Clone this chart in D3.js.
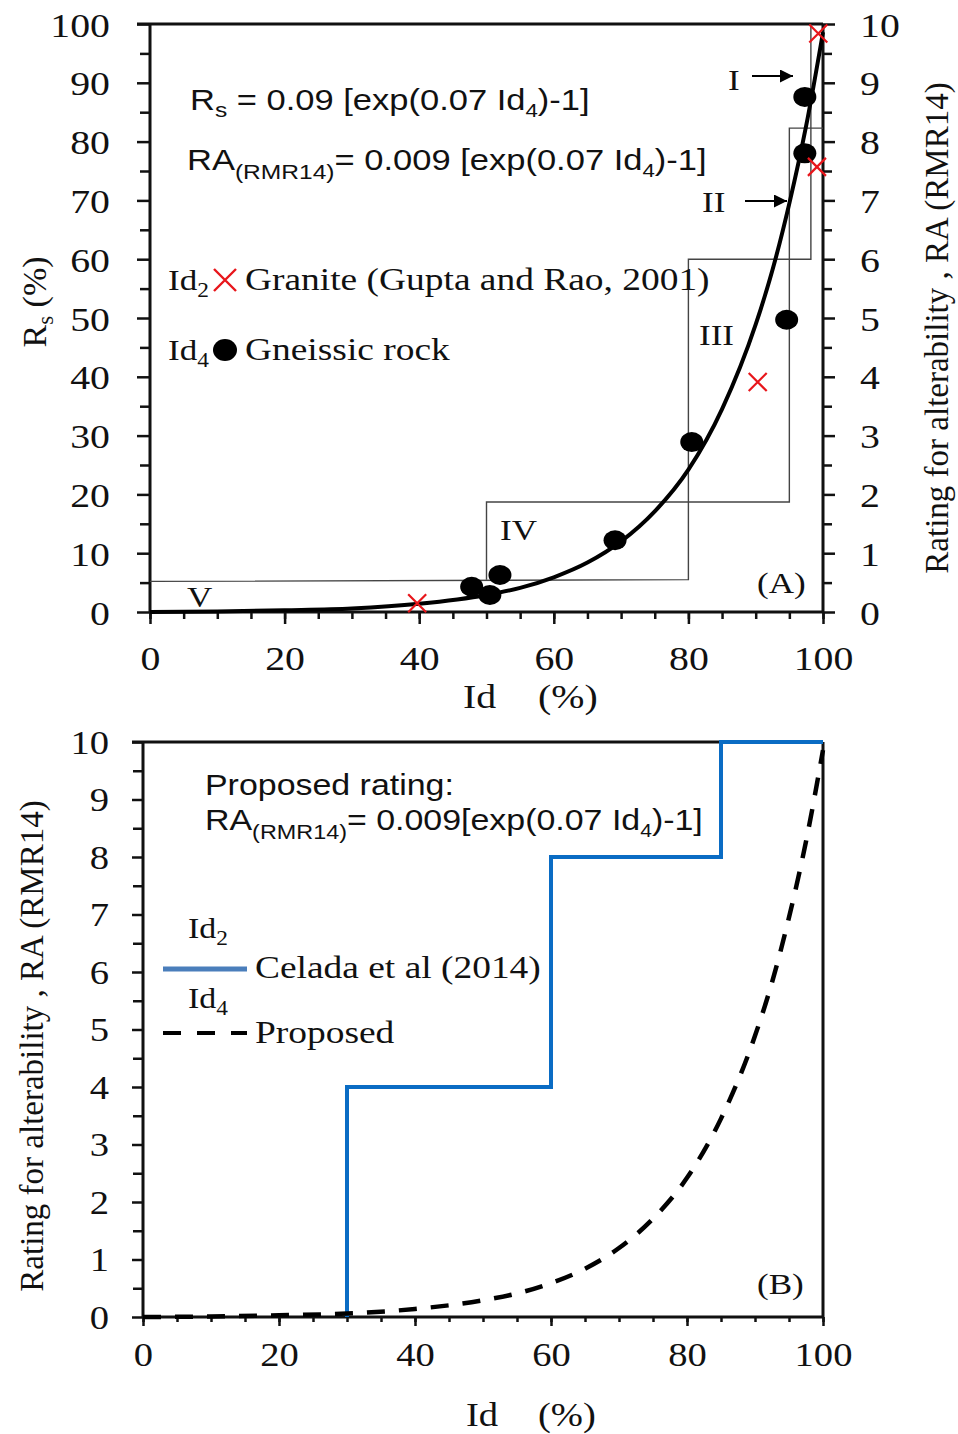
<!DOCTYPE html>
<html>
<head>
<meta charset="utf-8">
<script src="https://cdn.jsdelivr.net/npm/d3@7"></script>
<style>
  body { margin: 0; background: #fff; }
  svg { display: block; }
</style>
</head>
<body>
<div id="chart"></div>
<script>
// fitted curve (Rs in %, RA = rating)
const idFit = [0, 10, 20, 30, 40, 50, 55, 60, 65, 70, 75, 80, 85, 90, 92.5, 95, 97.5, 100];
const rsFit = [0, 0.1, 0.3, 0.6, 1.4, 2.9, 4.1, 5.9, 8.4, 12.0, 17.1, 24.2, 34.5, 48.9, 58.2, 69.5, 82.7, 98.6];
const raFit = [0, 0.01, 0.03, 0.06, 0.14, 0.29, 0.41, 0.59, 0.84, 1.20, 1.71, 2.42, 3.45, 4.89, 5.82, 6.95, 8.27, 9.86];

// gneissic rock (Id4)
const idGneiss = [47.8, 50.5, 52, 69.1, 80.5, 94.6, 97.3, 97.3];
const rsGneiss = [4.3, 2.9, 6.3, 12.2, 28.9, 49.7, 78, 87.6];

// granite, Gupta and Rao 2001 (Id2)
const idGranite = [39.7, 90.3, 99.1, 99.3];
const rsGranite = [1.5, 39.1, 75.7, 98.4];

// class boundaries I..V (two staircases)
const lowerStepId = [0, 80, 80, 98.2, 98.2];
const lowerStepRs = [5.2, 5.5, 60, 60, 100];
const upperStepId = [50, 50, 95, 95, 100];
const upperStepRs = [5.5, 18.7, 18.7, 82.3, 82.3];

// Celada et al (2014) rating steps
const celadaId = [30, 30, 60, 60, 85, 85, 100];
const celadaRA = [0, 4, 4, 8, 8, 10, 10];

const xTicksMajor = [0, 20, 40, 60, 80, 100];
const rsTicks = [0, 10, 20, 30, 40, 50, 60, 70, 80, 90, 100];
const raTicks = [0, 1, 2, 3, 4, 5, 6, 7, 8, 9, 10];

const W = 958, H = 1434;
const SX = 1.17;  // glyphs in the figure are drawn a little wide
const serif = "'Liberation Serif', 'Times New Roman', serif";
const sans = "'Liberation Sans', Arial, sans-serif";
const ink = "#111";

const svg = d3.select("#chart").append("svg")
    .attr("width", W).attr("height", H);

function label(g, x, y, s, size, font, anchor) {
    return g.append("text")
        .attr("transform", "translate(" + x + "," + y + ") scale(" + SX + ",1)")
        .attr("font-family", font || serif)
        .attr("font-size", size)
        .attr("text-anchor", anchor || "start")
        .attr("fill", ink)
        .text(s);
}
function sub(t, s, size, drop) {
    t.append("tspan").attr("font-size", size).attr("dy", drop).text(s);
}
function vlabel(g, x, y, size) {
    return g.append("text")
        .attr("transform", "translate(" + x + "," + y + ") rotate(-90)")
        .attr("font-family", serif).attr("font-size", size).attr("fill", ink)
        .attr("text-anchor", "middle");
}

// ---------- panel A ----------
const xA = d3.scaleLinear().domain([0, 100]).range([150, 823]);
const yA = d3.scaleLinear().domain([0, 100]).range([612, 24]);
const yA2 = d3.scaleLinear().domain([0, 10]).range([612, 24]);

const gA = svg.append("g");

function styleAxis(g) {
    g.select(".domain").remove();
    g.selectAll("line").attr("stroke", ink).attr("stroke-width", 2.5);
}

gA.append("g").attr("transform", "translate(0,612)")
    .call(d3.axisBottom(xA).tickValues(d3.range(0, 101, 5)).tickSize(7).tickFormat(""))
    .call(styleAxis);
gA.append("g").attr("transform", "translate(0,612)")
    .call(d3.axisBottom(xA).tickValues(xTicksMajor).tickSize(12))
    .call(styleAxis)
    .selectAll("text").attr("x", 0).attr("y", 0).attr("dy", 0)
    .attr("transform", "translate(0,58) scale(" + SX + ",1)")
    .attr("font-family", serif).attr("font-size", 34).attr("fill", ink);

gA.append("g").attr("transform", "translate(150,0)")
    .call(d3.axisLeft(yA).tickValues(d3.range(5, 100, 10)).tickSize(10).tickFormat(""))
    .call(styleAxis);
gA.append("g").attr("transform", "translate(150,0)")
    .call(d3.axisLeft(yA).tickValues(rsTicks).tickSize(13))
    .call(styleAxis)
    .selectAll("text").attr("x", 0).attr("dy", 0)
    .attr("transform", "translate(-40,12) scale(" + SX + ",1)")
    .attr("font-family", serif).attr("font-size", 34).attr("fill", ink);

gA.append("g").attr("transform", "translate(823,0)")
    .call(d3.axisRight(yA2).tickValues(d3.range(0.5, 10, 1)).tickSize(9).tickFormat(""))
    .call(styleAxis);
gA.append("g").attr("transform", "translate(823,0)")
    .call(d3.axisRight(yA2).tickValues(raTicks).tickSize(12))
    .call(styleAxis)
    .selectAll("text").attr("x", 0).attr("dy", 0)
    .attr("transform", "translate(37,12) scale(" + SX + ",1)")
    .attr("font-family", serif).attr("font-size", 34).attr("fill", ink);

// frame
const frameA = [[137, 24, 823, 24], [150, 24, 150, 612], [150, 612, 823, 612], [823, 24, 823, 612]];
gA.selectAll(".frame").data(frameA).enter().append("line")
    .attr("x1", d => d[0]).attr("y1", d => d[1]).attr("x2", d => d[2]).attr("y2", d => d[3])
    .attr("stroke", ink).attr("stroke-width", 3);

// class boxes
const step = d3.line().x(d => xA(d[0])).y(d => yA(d[1]));
[d3.zip(lowerStepId, lowerStepRs), d3.zip(upperStepId, upperStepRs)].forEach(pts => {
    gA.append("path").attr("d", step(pts))
        .attr("fill", "none").attr("stroke", "#444").attr("stroke-width", 1.4);
});

// fit curve
const fitA = d3.line().x(d => xA(d[0])).y(d => yA(d[1])).curve(d3.curveMonotoneX);
gA.append("path").attr("d", fitA(d3.zip(idFit, rsFit)))
    .attr("fill", "none").attr("stroke", "#000").attr("stroke-width", 4);

// gneissic points
gA.selectAll(".gn").data(d3.zip(idGneiss, rsGneiss)).enter().append("ellipse")
    .attr("cx", d => xA(d[0])).attr("cy", d => yA(d[1]))
    .attr("rx", 11.5).attr("ry", 10).attr("fill", "#000");

// granite crosses
const cross = 9;
gA.selectAll(".gr").data(d3.zip(idGranite, rsGranite)).enter().append("path")
    .attr("d", d => {
        const x = xA(d[0]), y = yA(d[1]);
        return "M" + (x - cross) + "," + (y - cross) + "L" + (x + cross) + "," + (y + cross) +
               "M" + (x - cross) + "," + (y + cross) + "L" + (x + cross) + "," + (y - cross);
    })
    .attr("stroke", "#e8161b").attr("stroke-width", 2.2).attr("fill", "none");

// equations
let t = label(gA, 190, 110, "R", 29.5, sans);
sub(t, "s", 21, 7);
t.append("tspan").attr("dy", -7).text(" = 0.09 [exp(0.07 Id");
sub(t, "4", 19, 7);
t.append("tspan").attr("dy", -7).text(")-1]");

t = label(gA, 187, 170, "RA", 29.5, sans);
sub(t, "(RMR14)", 21, 9);
t.append("tspan").attr("dy", -9).text("= 0.009 [exp(0.07 Id");
sub(t, "4", 19, 7);
t.append("tspan").attr("dy", -7).text(")-1]");

// legend A
t = label(gA, 168, 290, "Id", 30);
sub(t, "2", 20, 7);
gA.append("path")
    .attr("d", "M214,269L236,291M214,291L236,269")
    .attr("stroke", "#e8161b").attr("stroke-width", 2.4);
label(gA, 245, 290, "Granite (Gupta and Rao, 2001)", 32);

t = label(gA, 168, 360, "Id", 30);
sub(t, "4", 20, 7);
gA.append("ellipse").attr("cx", 225).attr("cy", 350).attr("rx", 12).attr("ry", 11).attr("fill", "#000");
label(gA, 245, 360, "Gneissic rock", 32);

// class labels and arrows
label(gA, 728, 90, "I", 30);
label(gA, 702, 212, "II", 30);
label(gA, 699, 345, "III", 30);
label(gA, 500, 540, "IV", 30);
label(gA, 187, 607, "V", 30);
label(gA, 757, 593, "(A)", 30);

svg.append("defs").append("marker")
    .attr("id", "arr").attr("viewBox", "0 0 10 10")
    .attr("refX", 10).attr("refY", 5)
    .attr("markerWidth", 16).attr("markerHeight", 13).attr("markerUnits", "userSpaceOnUse")
    .attr("orient", "auto")
    .append("path").attr("d", "M0,0L10,5L0,10Z").attr("fill", "#000");
[[752, 793, 76], [745, 787, 201]].forEach(a => {
    gA.append("line").attr("x1", a[0]).attr("x2", a[1]).attr("y1", a[2]).attr("y2", a[2])
        .attr("stroke", "#000").attr("stroke-width", 2).attr("marker-end", "url(#arr)");
});

// axis titles A
label(gA, 463, 708, "Id", 34);
label(gA, 538, 708, "(%)", 34);

t = vlabel(gA, 46, 302, 34);
t.append("tspan").text("R");
sub(t, "s", 23, 7);
t.append("tspan").attr("dy", -7).text(" (%)");

vlabel(gA, 948, 328, 33).text("Rating for alterability , RA (RMR14)");

// ---------- panel B ----------
const xB = d3.scaleLinear().domain([0, 100]).range([143, 823]);
const yB = d3.scaleLinear().domain([0, 10]).range([1317, 742]);
const gB = svg.append("g");

gB.append("g").attr("transform", "translate(0,1317)")
    .call(d3.axisBottom(xB).tickValues(d3.range(0, 101, 5)).tickSize(5).tickFormat(""))
    .call(styleAxis);
gB.append("g").attr("transform", "translate(0,1317)")
    .call(d3.axisBottom(xB).tickValues(xTicksMajor).tickSize(9))
    .call(styleAxis)
    .selectAll("text").attr("x", 0).attr("y", 0).attr("dy", 0)
    .attr("transform", "translate(0,49) scale(" + SX + ",1)")
    .attr("font-family", serif).attr("font-size", 33).attr("fill", ink);

gB.append("g").attr("transform", "translate(143,0)")
    .call(d3.axisLeft(yB).tickValues(d3.range(0.5, 10, 1)).tickSize(10).tickFormat(""))
    .call(styleAxis);
gB.append("g").attr("transform", "translate(143,0)")
    .call(d3.axisLeft(yB).tickValues(raTicks).tickSize(11))
    .call(styleAxis)
    .selectAll("text").attr("x", 0).attr("dy", 0)
    .attr("transform", "translate(-34,11) scale(" + SX + ",1)")
    .attr("font-family", serif).attr("font-size", 33).attr("fill", ink);

const frameB = [[132, 742, 823, 742], [143, 742, 143, 1317], [143, 1317, 823, 1317], [823, 742, 823, 1317]];
gB.selectAll(".frame").data(frameB).enter().append("line")
    .attr("x1", d => d[0]).attr("y1", d => d[1]).attr("x2", d => d[2]).attr("y2", d => d[3])
    .attr("stroke", ink).attr("stroke-width", 3);

const lineB = d3.line().x(d => xB(d[0])).y(d => yB(d[1]));
gB.append("path").attr("d", lineB(d3.zip(celadaId, celadaRA)))
    .attr("fill", "none").attr("stroke", "#0a6cc4").attr("stroke-width", 4);

gB.append("path").attr("d", lineB.curve(d3.curveMonotoneX)(d3.zip(idFit, raFit)))
    .attr("fill", "none").attr("stroke", "#000").attr("stroke-width", 4.5)
    .attr("stroke-dasharray", "18,14");

// text B
label(gB, 205, 795, "Proposed rating:", 29, sans);
t = label(gB, 205, 830, "RA", 29, sans);
sub(t, "(RMR14)", 20, 9);
t.append("tspan").attr("dy", -9).text("= 0.009[exp(0.07 Id");
sub(t, "4", 18, 7);
t.append("tspan").attr("dy", -7).text(")-1]");

t = label(gB, 188, 938, "Id", 29);
sub(t, "2", 20, 7);
gB.append("line").attr("x1", 163).attr("x2", 247).attr("y1", 969).attr("y2", 969)
    .attr("stroke", "#4a7ebb").attr("stroke-width", 5);
label(gB, 255, 978, "Celada et al (2014)", 32);

t = label(gB, 188, 1008, "Id", 29);
sub(t, "4", 20, 7);
gB.append("line").attr("x1", 163).attr("x2", 247).attr("y1", 1033).attr("y2", 1033)
    .attr("stroke", "#000").attr("stroke-width", 4).attr("stroke-dasharray", "18,16");
label(gB, 255, 1043, "Proposed", 32);

label(gB, 757, 1294, "(B)", 30);
label(gB, 466, 1426, "Id", 33);
label(gB, 538, 1426, "(%)", 33);

vlabel(gB, 43, 1046, 33).text("Rating for alterability , RA (RMR14)");
</script>
</body>
</html>
